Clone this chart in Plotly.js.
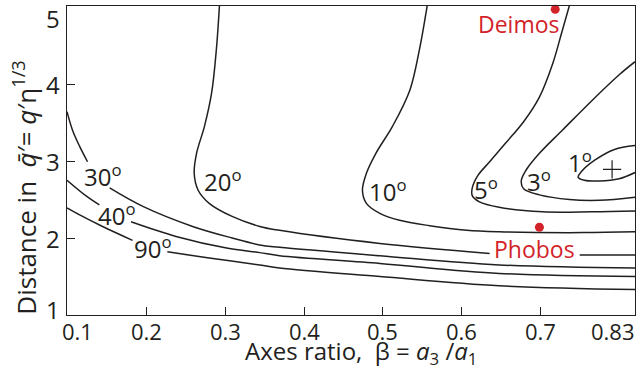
<!DOCTYPE html>
<html>
<head>
<meta charset="utf-8">
<script src="https://cdn.plot.ly/plotly-3.0.1.min.js"></script>
<style>html,body{margin:0;padding:0;background:#fff;}#chart{width:642px;height:374px;}</style>
</head>
<body>
<div id="chart"></div>
<script>
// ---- data ----
var xTicks = [0.1, 0.2, 0.3, 0.4, 0.5, 0.6, 0.7];
var xTickText = ["0.1", "0.2", "0.3", "0.4", "0.5", "0.6", "0.7"];
var xEnd = 0.819;
var xEndText = "0.83";
var yTicks = [1, 2, 3, 4, 5];
var yTickText = ["1", "2", "3", "4", "5"];

// contour lines (beta, distance); null = gap for a label
var c90x = [0.1, 0.116, 0.145, 0.183, null, 0.227, 0.280, 0.344, 0.369, 0.496, 0.647, 0.819];
var c90y = [2.39, 2.30, 2.15, 1.97, null, 1.82, 1.74, 1.65, 1.61, 1.50, 1.38, 1.33];

var c40x = [0.1, 0.125, 0.141, null, 0.181, 0.238, 0.302, 0.344, 0.369, 0.496, 0.647, 0.819];
var c40y = [2.75, 2.54, 2.43, null, 2.21, 2.02, 1.87, 1.81, 1.77, 1.67, 1.54, 1.50];

var c30x = [0.1, 0.107, 0.116, 0.126, null, 0.154, 0.196, 0.259, 0.309, 0.344, 0.369, 0.496, 0.647, 0.819];
var c30y = [3.64, 3.40, 3.19, 2.99, null, 2.65, 2.41, 2.15, 2.00, 1.91, 1.88, 1.77, 1.65, 1.61];

var c20x = [0.293, 0.289, 0.283, 0.274, 0.264, 0.261, 0.266, 0.280, 0.309, 0.344, 0.369, 0.496, 0.635, null, 0.749, 0.819];
var c20y = [5.02, 4.44, 3.88, 3.45, 3.10, 2.84, 2.62, 2.45, 2.28, 2.15, 2.10, 1.93, 1.80, null, 1.78, 1.78];

var c10x = [0.556, 0.546, 0.534, 0.512, 0.491, 0.479, 0.474, 0.479, 0.496, 0.521, 0.559, 0.606, 0.647, 0.753, 0.819];
var c10y = [5.02, 4.44, 3.92, 3.45, 3.10, 2.84, 2.62, 2.45, 2.32, 2.23, 2.16, 2.10, 2.08, 2.07, 2.08];

var c5x = [0.736, 0.726, 0.715, 0.698, 0.678, 0.655, 0.635, 0.620, 0.613, 0.613, 0.622, 0.647, 0.702, 0.765, 0.819];
var c5y = [5.02, 4.66, 4.27, 3.83, 3.51, 3.23, 2.99, 2.81, 2.65, 2.55, 2.47, 2.40, 2.34, 2.34, 2.35];

var c3x = [0.819, 0.799, 0.765, 0.727, 0.698, 0.681, 0.675, 0.678, 0.698, 0.736, 0.774, 0.819];
var c3y = [4.29, 4.12, 3.79, 3.40, 3.10, 2.88, 2.74, 2.64, 2.56, 2.50, 2.49, 2.53];

var c1x = [0.819, 0.793, 0.768, 0.751, 0.747, 0.755, 0.774, 0.799, 0.819];
var c1y = [3.20, 3.15, 3.01, 2.86, 2.79, 2.75, 2.74, 2.77, 2.85];

// contour labels
var levelText = ["90", "40", "30", "20", "10", "5", "3", "1"];
var levelLabelX = [0.209, 0.163, 0.146, 0.297, 0.506, 0.631, 0.697, 0.749];
var levelLabelY = [1.88, 2.31, 2.81, 2.75, 2.62, 2.64, 2.75, 3.00];

// moons
var moonNames = ["Phobos", "Deimos"];
var moonX = [0.698, 0.718];
var moonY = [2.14, 4.97];
var moonLabelX = [0.692, 0.672];
var moonLabelY = [1.86, 4.78];

// optimum marker
var plusX = [0.790];
var plusY = [2.89];

// ---- drawing ----
var FONT = "Open Sans, Noto Sans, sans-serif";
var INK = "#231f20";
var RED = "#d2232a";

var contours = [[c90x, c90y], [c40x, c40y], [c30x, c30y], [c20x, c20y], [c10x, c10y], [c5x, c5y], [c3x, c3y], [c1x, c1y]];
var traces = contours.map(function (c) {
  return {
    x: c[0], y: c[1], type: "scatter", mode: "lines",
    line: {color: INK, width: 1.5, shape: "spline", smoothing: 1},
    connectgaps: false, hoverinfo: "skip"
  };
});
traces.push({
  x: plusX, y: plusY, type: "scatter", mode: "markers",
  marker: {symbol: "cross-thin-open", size: 13, color: INK, line: {color: INK, width: 1.2}},
  hoverinfo: "skip"
});
traces.push({
  x: moonX, y: moonY, type: "scatter", mode: "markers",
  marker: {symbol: "circle", size: 9, color: RED},
  hoverinfo: "skip", cliponaxis: false
});

var annotations = [];
levelText.forEach(function (t, i) {
  annotations.push({
    x: levelLabelX[i], y: levelLabelY[i], xref: "x", yref: "y",
    text: t + "<sup>o</sup>", showarrow: false,
    font: {family: FONT, size: 24, color: INK},
    xanchor: "center", yanchor: "middle"
  });
});
moonNames.forEach(function (t, i) {
  annotations.push({
    x: moonLabelX[i], y: moonLabelY[i], xref: "x", yref: "y",
    text: t, showarrow: false,
    font: {family: FONT, size: 23, color: RED},
    xanchor: "center", yanchor: "middle"
  });
});
// x tick labels (edge labels kept inside the frame, as in the reference)
xTicks.forEach(function (v, i) {
  annotations.push({
    x: v, y: 0, xref: "x", yref: "paper",
    text: xTickText[i], showarrow: false, borderpad: 0,
    xanchor: i === 0 ? "left" : "center", xshift: i === 0 ? -6 : 0,
    yanchor: "top", yshift: 0,
    font: {family: FONT, size: 22, color: INK}
  });
});
annotations.push({
  x: xEnd, y: 0, xref: "x", yref: "paper",
  text: xEndText, showarrow: false, borderpad: 0, xanchor: "right", xshift: 1, yanchor: "top", yshift: 0,
  font: {family: FONT, size: 22, color: INK}
});
// y tick labels
yTicks.forEach(function (v, i) {
  var last = yTicks.length - 1;
  annotations.push({
    x: 0, y: v, xref: "paper", yref: "y",
    text: yTickText[i], showarrow: false,
    xanchor: "right", xshift: -5,
    yanchor: i === last ? "top" : "middle", yshift: i === last ? 7 : (i === 0 ? 6 : 0),
    font: {family: FONT, size: 24, color: INK}
  });
});
// axis titles
annotations.push({
  x: 0.5176, y: 0, xref: "paper", yref: "paper",
  text: "Axes ratio,  \u03b2 = <i>a</i><sub>3</sub> /<i>a</i><sub>1</sub>",
  showarrow: false, borderpad: 0, xanchor: "center", yanchor: "top", yshift: -18,
  font: {family: FONT, size: 24, color: INK}
});
annotations.push({
  x: 0, y: 0.412, xref: "paper", yref: "paper",
  text: "Distance in  <i>q\u0304</i>\u2032= <i>q</i>\u2032\u03b7<sup>1/3</sup>",
  textangle: -90, showarrow: false, xanchor: "center", yanchor: "middle", xshift: -42,
  font: {family: FONT, size: 26, color: INK}
});

var layout = {
  width: 642, height: 374,
  margin: {l: 67, r: 7, t: 6, b: 59, pad: 0},
  paper_bgcolor: "#fff", plot_bgcolor: "#fff",
  showlegend: false,
  font: {family: FONT, color: INK},
  xaxis: {
    range: [0.1, xEnd], tickvals: xTicks, showticklabels: false,
    ticks: "inside", ticklen: 8, tickwidth: 1, tickcolor: INK,
    showline: true, mirror: true, linecolor: INK, linewidth: 1.3,
    showgrid: false, zeroline: false
  },
  yaxis: {
    range: [1, 5.013], tickvals: yTicks, showticklabels: false,
    ticks: "inside", ticklen: 8, tickwidth: 1, tickcolor: INK,
    showline: true, mirror: true, linecolor: INK, linewidth: 1.3,
    showgrid: false, zeroline: false
  },
  annotations: annotations
};

Plotly.newPlot("chart", traces, layout, {staticPlot: true, displayModeBar: false});
</script>
</body>
</html>
